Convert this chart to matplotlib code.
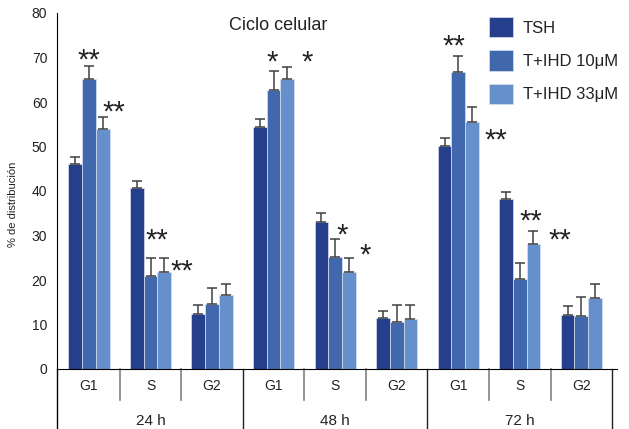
import numpy as np
import matplotlib
matplotlib.use('Agg')
import matplotlib.pyplot as plt
from matplotlib.patches import Patch

plt.rcParams['font.family'] = ['Liberation Sans', 'DejaVu Sans']

phases = ['G1', 'S', 'G2']
times = ['24 h', '48 h', '72 h']
series = ['TSH', 'T+IHD 10μM', 'T+IHD 33μM']
colors = ['#263f8d', '#4167ad', '#6590cb']

# mean % per (24h G1, S, G2, 48h G1, S, G2, 72h G1, S, G2)
tsh = [46.1, 40.6, 12.4, 54.4, 33.0, 11.4, 50.2, 38.2, 12.1]
ihd10 = [65.1, 20.9, 14.7, 62.7, 25.1, 10.6, 66.8, 20.3, 12.0]
ihd33 = [53.9, 21.9, 16.6, 65.1, 21.9, 11.2, 55.4, 28.0, 16.0]
tsh_err = [1.5, 1.6, 1.9, 1.7, 2.0, 1.7, 1.8, 1.6, 2.1]
ihd10_err = [3.1, 4.1, 3.6, 4.2, 4.1, 3.7, 3.5, 3.5, 4.1]
ihd33_err = [2.7, 3.1, 2.4, 2.8, 3.1, 3.1, 3.5, 3.1, 3.1]

# significance marks: text, x (group units), y (% units)
marks = [('**', 0.0, 71.2), ('**', 0.41, 59.6), ('**', 1.10, 30.8), ('**', 1.51, 24.0),
         ('*', 2.97, 70.8), ('*', 3.54, 70.8), ('*', 4.11, 31.9), ('*', 4.48, 27.4),
         ('**', 5.93, 74.4), ('**', 6.61, 53.3), ('**', 7.18, 35.1), ('**', 7.65, 30.8)]

fig = plt.figure(figsize=(6.29, 4.29), dpi=100)
ax = fig.add_axes([57 / 629, 1 - 369 / 429, 560 / 629, 356 / 429])

x = np.arange(len(tsh))
w = 0.223
vals = [tsh, ihd10, ihd33]
errs = [tsh_err, ihd10_err, ihd33_err]
for k in range(3):
    ax.bar(x + (k - 1) * w, vals[k], w, color=colors[k], edgecolor='#d8e0f0', linewidth=0.5,
           yerr=[np.zeros(len(x)), errs[k]], capsize=3.6,
           error_kw=dict(ecolor='#404040', elinewidth=1.1, capthick=1.1), zorder=2)

# asterisk glyphs sit high in the line box, so shift the anchor down
for txt, mx, my in marks:
    ax.text(mx, my - 2.0, txt, ha='center', va='center', fontsize=21, color='#222222')

ax.set_xlim(-0.52, 8.58)
ax.set_ylim(0, 80)
ax.set_yticks(np.arange(0, 81, 10))
ax.tick_params(axis='y', length=0, pad=7, labelsize=10, labelcolor='#222222')
ax.set_xticks([])
for s in ['top', 'right']:
    ax.spines[s].set_visible(False)
ax.spines['left'].set_bounds(0, 80)

trans = ax.get_xaxis_transform()
# left spine continues below the axis
ax.plot([-0.52, -0.52], [0, -0.166], color='black', lw=1, transform=trans, clip_on=False)
for i in range(9):
    ax.text(i, -0.048, phases[i % 3], ha='center', va='center', fontsize=10,
            color='#222222', transform=trans)
    b = i + 0.5
    if i % 3 == 2:
        ax.plot([b, b], [0, -0.166], color='#222222', lw=1, transform=trans, clip_on=False)
    else:
        ax.plot([b, b], [0, -0.087], color='#808080', lw=1.2, transform=trans, clip_on=False)
for j, t in enumerate(times):
    ax.text(3 * j + 1, -0.146, t, ha='center', va='center', fontsize=11,
            color='#222222', transform=trans)

ax.text(3.08, 77.2, 'Ciclo celular', ha='center', va='center', fontsize=13, color='#222222')
fig.text(13 / 629, 1 - 204 / 429, '% de distribución', rotation=90, ha='center',
         va='center', fontsize=8, color='#222222')

handles = [Patch(facecolor=c, edgecolor='#d8e0f0', linewidth=0.5) for c in colors]
ax.legend(handles, series, loc='upper left', bbox_to_anchor=(0.771, 0.989), frameon=False,
          fontsize=12, handlelength=1.44, handleheight=1.5, labelspacing=0.78,
          handletextpad=0.6, borderpad=0, borderaxespad=0, labelcolor='#222222')

fig.savefig('out.png', dpi=100)
